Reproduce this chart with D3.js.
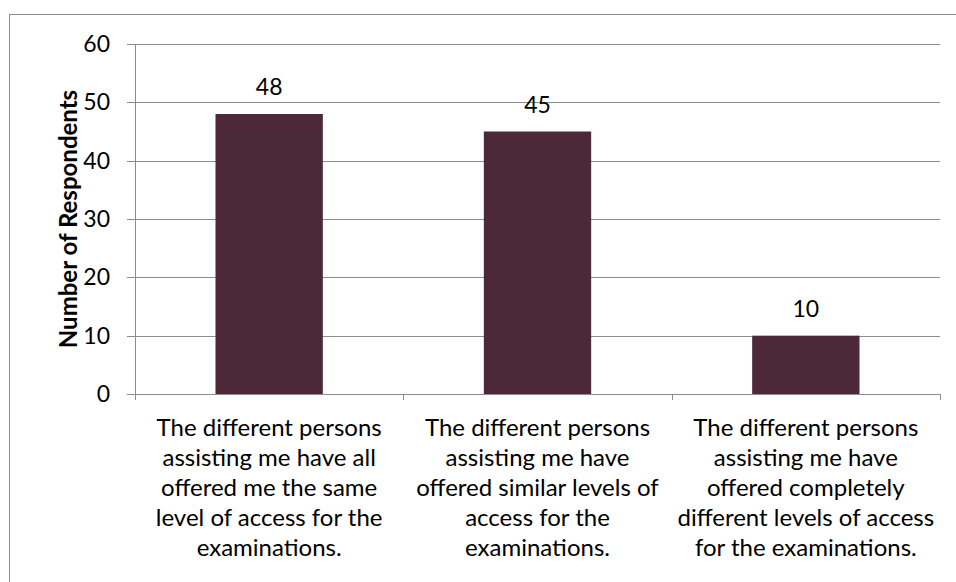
<!DOCTYPE html>
<html>
<head>
<meta charset="utf-8">
<script src="https://cdn.jsdelivr.net/npm/d3@7"></script>
<style>
  body { margin: 0; background: #fff; }
  svg { display: block; }
  text { font-family: Lato, "Open Sans", sans-serif; fill: #000; }
</style>
</head>
<body>
<div id="chart"></div>
<script>
// data
const categories = [
    ["The different persons", "assisting me have all", "offered me the same", "level of access for the", "examinations."],
    ["The different persons", "assisting me have", "offered similar levels of", "access for the", "examinations."],
    ["The different persons", "assisting me have", "offered completely", "different levels of access", "for the examinations."]
];
const values = [48, 45, 10];
const yTicks = [0, 10, 20, 30, 40, 50, 60];
const yTitle = "Number of Respondents";

const width = 956, height = 582;
const margin = { top: 44, right: 16, bottom: 188, left: 135 };

const svg = d3.select("#chart").append("svg")
    .attr("width", width)
    .attr("height", height);

// outer chart border (runs off right and bottom)
svg.append("rect")
    .attr("x", 9.5).attr("y", 14.5)
    .attr("width", width + 10).attr("height", height + 10)
    .attr("fill", "none")
    .attr("stroke", "#8c8c8c")
    .attr("stroke-width", 1);

const x = d3.scaleBand()
    .domain(d3.range(values.length))
    .range([margin.left, width - margin.right])
    .paddingInner(0.6)
    .paddingOuter(0.3);

const y = d3.scaleLinear()
    .domain([0, 60])
    .range([height - margin.bottom, margin.top]);

// gridlines
svg.append("g")
    .selectAll("line")
    .data(yTicks)
    .enter().append("line")
    .attr("x1", margin.left - 8)
    .attr("x2", width - margin.right)
    .attr("y1", d => Math.round(y(d)) + 0.5)
    .attr("y2", d => Math.round(y(d)) + 0.5)
    .attr("stroke", "#8c8c8c")
    .attr("stroke-width", 1);

// y axis line
svg.append("line")
    .attr("x1", margin.left + 0.5).attr("x2", margin.left + 0.5)
    .attr("y1", y(60)).attr("y2", y(0))
    .attr("stroke", "#8c8c8c");

// y tick labels
svg.append("g")
    .selectAll("text")
    .data(yTicks)
    .enter().append("text")
    .attr("x", 110)
    .attr("y", d => y(d))
    .attr("dy", "0.35em")
    .attr("text-anchor", "end")
    .style("font-size", "23px")
    .text(d => d);

// x category tick marks at band boundaries
const bounds = d3.range(values.length + 1).map(i => margin.left + i * (width - margin.right - margin.left) / values.length);
svg.append("g")
    .selectAll("line")
    .data(bounds)
    .enter().append("line")
    .attr("x1", d => Math.round(d) + 0.5)
    .attr("x2", d => Math.round(d) + 0.5)
    .attr("y1", y(0))
    .attr("y2", y(0) + 6)
    .attr("stroke", "#8c8c8c");

// bars
svg.append("g")
    .selectAll("rect")
    .data(values)
    .enter().append("rect")
    .attr("x", (d, i) => x(i))
    .attr("y", d => y(d))
    .attr("width", x.bandwidth())
    .attr("height", d => y(0) - y(d))
    .attr("fill", "#4d2839");

// value labels
svg.append("g")
    .selectAll("text")
    .data(values)
    .enter().append("text")
    .attr("x", (d, i) => x(i) + x.bandwidth() / 2)
    .attr("y", d => y(d) - 19)
    .attr("text-anchor", "middle")
    .style("font-size", "23px")
    .text(d => d);

// category labels, multi-line
const catG = svg.append("g")
    .selectAll("text")
    .data(categories)
    .enter().append("text")
    .attr("text-anchor", "middle")
    .style("font-size", "24px");

catG.selectAll("tspan")
    .data((d, i) => d.map(line => ({ line, i })))
    .enter().append("tspan")
    .attr("x", d => x(d.i) + x.bandwidth() / 2)
    .attr("y", (d, j) => 436 + j * 30)
    .text(d => d.line);

// y axis title
svg.append("text")
    .attr("transform", `translate(77,${(y(0) + y(60)) / 2}) rotate(-90)`)
    .attr("text-anchor", "middle")
    .style("font-size", "24px")
    .style("font-weight", "bold")
    .text(yTitle);
</script>
</body>
</html>
